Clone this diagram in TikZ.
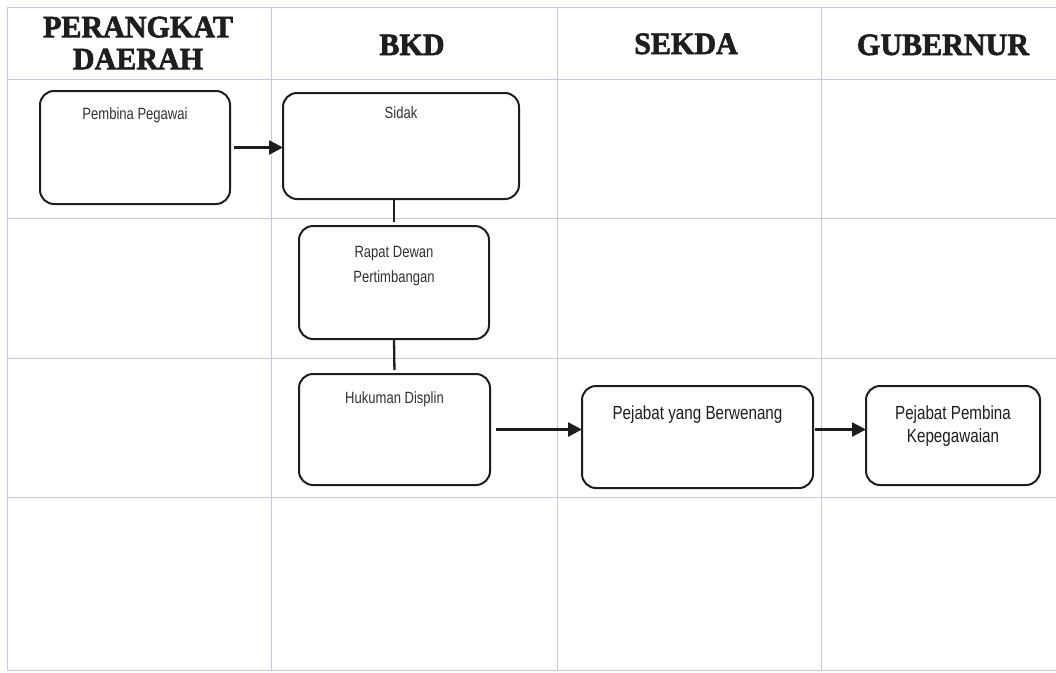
\documentclass[tikz,border=0pt]{standalone}
\usepackage{fontspec}
\setmainfont{Liberation Sans}
\newfontfamily\hdrfont[FakeBold=2,FakeStretch=0.97]{Liberation Serif}
\newfontfamily\narrowfont[FakeStretch=0.8]{Liberation Sans}
\usetikzlibrary{arrows.meta}
\definecolor{gridc}{RGB}{205,198,225}
\definecolor{inkc}{RGB}{30,30,30}
\definecolor{txtc}{RGB}{50,50,50}
\newcommand\smallf{\narrowfont\fontsize{16.3}{25}\selectfont}
\newcommand\bigf{\narrowfont\fontsize{19}{23}\selectfont}
\newcommand\hdrf{\hdrfont\bfseries\fontsize{31}{32}\selectfont}
\newcommand\mylbl[4]{\parbox[c][#2][t]{#1}{\vspace*{#3}\centering #4\par}}
\tikzset{
  gridline/.style={draw=gridc, line width=0.9pt},
  hdr/.style={inner sep=0pt, text=inkc, font=\hdrf, align=center},
  procbox/.style={draw=inkc, line width=2pt, rounded corners=14pt, inner sep=0pt, outer sep=0pt, fill=white},
  joinline/.style={draw=inkc, line width=2.3pt},
  conn/.style={draw=inkc, line width=2.6pt, -{Triangle[length=14pt,width=14pt]}},
}
\begin{document}
\begin{tikzpicture}[x=1pt,y=-1pt]
\useasboundingbox[fill=white] (0,0) rectangle (1056,672);
% grid
\foreach \gx in {7,271,557,821} { \draw[gridline] (\gx,7) -- (\gx,670); }
\foreach \gy in {7,79,218,358,497,670} { \draw[gridline] (7,\gy) -- (1056,\gy); }
% headers
\node[hdr] (hpd) at (138,43) {PERANGKAT\\DAERAH};
\node[hdr, anchor=base] (hbkd) at (412,55) {BKD};
\node[hdr, anchor=base] (hsek) at (686,54) {SEKDA};
\node[hdr, anchor=base] (hgub) at (943,55) {GUBERNUR};
% boxes
\node[procbox, text=txtc] (pembina) at (135,147.5) {\mylbl{190pt}{113pt}{17pt}{\smallf Pembina Pegawai}};
\node[procbox, text=txtc] (sidak) at (401,146) {\mylbl{236pt}{106pt}{14pt}{\smallf Sidak}};
\node[procbox, text=txtc] (rapat) at (394,282.5) {\mylbl{190pt}{113pt}{20pt}{\smallf Rapat Dewan\\Pertimbangan}};
\node[procbox, text=txtc] (hukuman) at (394.5,429.5) {\mylbl{191pt}{111pt}{18pt}{\smallf Hukuman Displin}};
\node[procbox, text=inkc] (pejabat) at (697.5,437) {\mylbl{231pt}{102pt}{20pt}{\bigf Pejabat yang Berwenang}};
\node[procbox, text=inkc] (ppk) at (953,435.5) {\mylbl{174pt}{99pt}{20pt}{\bigf Pejabat Pembina\\Kepegawaian}};
% connectors
\draw[conn, shorten <=4pt] (pembina.east) -- (pembina.east -| sidak.west);
\draw[joinline, shorten >=4pt] (sidak.south -| rapat.north) -- (rapat.north);
\draw[joinline, shorten >=4pt] (rapat.south) -- (hukuman.north);
\draw[conn, shorten <=6pt] (hukuman.east) -- (hukuman.east -| pejabat.west);
\draw[conn, shorten <=2pt] (pejabat.east |- hukuman.east) -- (ppk.west |- hukuman.east);
\end{tikzpicture}
\end{document}
